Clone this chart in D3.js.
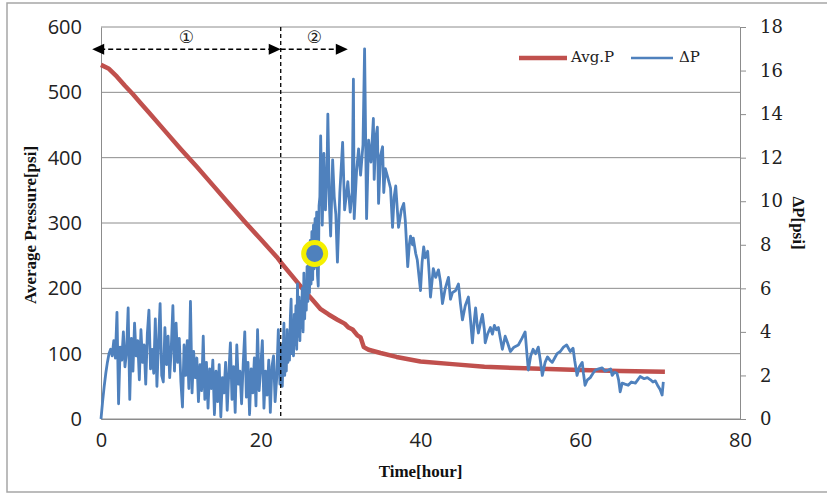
<!DOCTYPE html>
<html>
<head>
<meta charset="utf-8">
<script src="https://cdn.jsdelivr.net/npm/d3@7"></script>
<style>
  html, body { margin: 0; padding: 0; background: #fff; }
  .tick-sans { font-family: "Open Sans", sans-serif; font-size: 20px; fill: #222; }
  .tick-serif { font-family: "DejaVu Serif", serif; font-size: 18px; fill: #222; }
  .axis-title { font-family: "Liberation Serif", serif; font-size: 17px; font-weight: bold; fill: #111; }
  .legend-label { font-family: "DejaVu Serif", serif; font-size: 15px; fill: #222; }
  .phase-label { font-family: "DejaVu Sans", sans-serif; font-size: 17px; fill: #222; }
</style>
</head>
<body>
<svg id="chart" width="827" height="495"></svg>
<script>
// Avg.P and dP vs time, two y axes.

const X_TICKS = [0, 20, 40, 60, 80];
const LEFT_TICKS = [0, 100, 200, 300, 400, 500, 600];
const RIGHT_TICKS = [0, 2, 4, 6, 8, 10, 12, 14, 16, 18];

// [time (hour), average pressure (psi)]
const avgP = [
  [0, 542], [1, 536], [2, 524], [3, 510], [4, 497], [5, 483], [6, 469],
  [8, 441], [10, 413], [12, 386], [14, 358], [16, 330], [18, 302], [20, 275],
  [22, 248], [22.5, 240], [24, 218], [25.4, 197], [26.5, 182], [27.5, 168],
  [28.5, 160], [29.6, 152], [30.5, 146], [31, 140], [31.5, 137], [32.1, 128],
  [32.5, 125], [32.9, 110], [33.5, 106], [35, 101], [37, 95], [40, 88],
  [44, 84], [48, 80], [52, 78], [56, 76.5], [60, 75], [65, 73.5], [70.6, 72.5],
];

// [time (hour), dP (psi)] - phase 1: noisy plateau before the split
const dpPhase1 = [
  [0, 0], [0.2, 0.8], [0.4, 1.5], [0.6, 2.1], [0.8, 2.6], [1, 3], [1.2, 3.2], [1.4, 2.9],
  [1.6, 3.6], [1.8, 2.8], [2, 4.9], [2.2, 0.7], [2.4, 3.3], [2.6, 2.7], [2.8, 4], [3, 2.4],
  [3.2, 3.1], [3.4, 5.1], [3.6, 0.9], [3.8, 3.7], [4, 2.2], [4.2, 4.4], [4.4, 2.9], [4.6, 3.6],
  [4.8, 1.8], [5, 4.1], [5.2, 2.6], [5.4, 3.4], [5.6, 1.6], [5.8, 3.9], [6, 5], [6.2, 2.3],
  [6.4, 3.2], [6.6, 2.1], [6.8, 4.6], [7, 1.5], [7.2, 3.5], [7.4, 5.3], [7.6, 2], [7.8, 1.7],
  [8, 4.2], [8.2, 2.5], [8.4, 3.8], [8.6, 1.9], [8.8, 3.3], [9, 5.2], [9.2, 2.2], [9.4, 4.4],
  [9.6, 2.6], [9.8, 3.7], [10, 1.7], [10.2, 0.55], [10.4, 3.4], [10.6, 2], [10.8, 3.6], [11, 1.4],
  [11.2, 5.4], [11.4, 1.2], [11.6, 3.1], [11.8, 1.9], [12, 2.8], [12.2, 0.8], [12.4, 2.5], [12.6, 1.3],
  [12.8, 3.8], [13, 0.9], [13.2, 2.6], [13.4, 0.5], [13.6, 2.3], [13.8, 1.4], [14, 2.7], [14.2, 0.2],
  [14.4, 2.2], [14.6, 0.8], [14.8, 2.5], [15, 0.1], [15.2, 1.9], [15.4, 1.2], [15.6, 2.6], [15.8, 0.4],
  [16, 2.1], [16.2, 3.5], [16.4, 0.9], [16.6, 2.4], [16.8, 0.3], [17, 3.4], [17.2, 1.6], [17.4, 2.2],
  [17.6, 0.7], [17.8, 2.5], [18, 4], [18.2, 1], [18.4, 2.6], [18.6, 0.2], [18.8, 2.3], [19, 1.2],
  [19.2, 2.8], [19.4, 0.6], [19.6, 4.1], [19.8, 1.3], [20, 2.4], [20.2, 3.6], [20.4, 0.5], [20.6, 2.2],
  [20.8, 1.1], [21, 2.7], [21.2, 0.3], [21.4, 2.4], [21.6, 2.9], [21.8, 0.8], [22, 1.9], [22.2, 4.1],
  [22.4, 1.6],
];

// phase 2: steep, dense rise to the peak
const dpPhase2 = [
  [22.5, 2], [22.6, 3.4], [22.7, 1.5], [22.8, 2.9], [22.9, 4.4], [23, 2], [23.1, 3.6], [23.2, 2.2],
  [23.3, 4.1], [23.4, 2.6], [23.5, 3.9], [23.6, 2.7], [23.7, 4.6], [23.8, 5.5], [23.9, 3], [24, 4.3],
  [24.1, 2.9], [24.2, 4.8], [24.3, 3.4], [24.4, 5.2], [24.5, 3.2], [24.6, 6.2], [24.7, 3.8], [24.8, 5.6],
  [24.9, 3.6], [25, 5.4], [25.1, 4.2], [25.2, 6], [25.3, 4], [25.4, 6.7], [25.5, 4.6], [25.6, 6.3],
  [25.7, 5], [25.8, 7], [25.9, 5.4], [26, 7.6], [26.1, 5.8], [26.2, 8.2], [26.3, 6.2], [26.4, 8.6],
  [26.5, 6.4], [26.6, 8.9], [26.7, 6.9], [26.8, 9.2], [26.9, 7], [27, 9.5], [27.1, 6.6], [27.2, 6.1],
  [27.3, 9.8], [27.4, 10.2], [27.5, 13], [27.7, 8.9], [27.9, 12.2], [28.1, 9.6], [28.3, 11.5], [28.4, 14],
  [28.6, 9.8], [28.75, 8.4], [29, 11.9], [29.2, 10.2], [29.4, 9.4], [29.6, 7.2], [29.9, 10.4], [30.25, 12.7],
  [30.5, 9.6], [30.9, 10.9], [31.2, 9.5], [31.45, 10.4], [31.6, 15.6], [31.7, 9.2], [32, 11.4], [32.25, 12.4],
  [32.5, 11.2], [32.8, 12.6], [33, 17], [33.25, 9.2], [33.5, 12.8],
];

// phase 3: saw-tooth decline
const dpPhase3 = [
  [33.8, 11.8], [34.1, 13.8], [34.2, 11], [34.4, 12.9], [34.6, 13.4], [34.75, 9.9], [35, 12.1], [35.25, 12.5],
  [35.4, 10.4], [35.6, 11.5], [35.9, 11.1], [36.25, 10.6], [36.5, 8.8], [36.7, 10.2], [36.9, 10.7], [37.1, 9.6],
  [37.25, 8.8], [37.6, 9.6], [37.9, 9.9], [38.1, 9.1], [38.4, 7], [38.6, 8], [38.75, 8.4], [39, 8],
  [39.1, 8.3], [39.4, 7.6], [39.6, 7.3], [39.8, 6.6], [40, 5.9], [40.2, 7.2], [40.4, 7.9], [40.6, 7.4],
  [40.9, 7.7], [41.1, 6.6], [41.25, 5.6], [41.6, 6.9], [41.9, 6.5], [42.25, 6.85], [42.5, 6.3], [42.75, 5.3],
  [43.1, 6], [43.5, 6.5], [43.75, 5.5], [44, 5.8], [44.4, 5.9], [44.75, 6.2], [45, 5.3], [45.25, 4.55],
  [45.6, 5.2], [46, 5.6], [46.25, 4.6], [46.5, 3.5], [46.7, 4.4], [46.9, 5.1], [47.1, 4.3], [47.25, 3.95],
  [47.5, 4.4], [47.75, 4.8], [48, 4.1], [48.1, 3.5], [48.4, 3.9], [48.75, 4.2], [49, 3.9], [49.25, 4.3],
  [49.5, 4.1], [49.75, 4.2], [50, 3.7], [50.25, 3.2], [50.6, 3.8], [50.9, 3.5], [51.25, 3.1], [51.7, 3.3],
  [52.25, 3.4], [52.7, 3.7], [53.1, 4], [53.3, 3.1], [53.5, 2.25], [53.8, 2.9], [54.1, 3.2], [54.4, 3],
  [54.75, 3.3], [55, 2.7], [55.25, 2], [55.6, 2.6], [55.9, 2.85], [56.2, 2.7], [56.5, 2.6], [56.8, 2.8],
  [57.1, 3], [57.5, 3.1], [57.9, 3.3], [58.3, 3.4], [58.75, 3.1], [59.1, 3.25], [59.3, 2.7], [59.6, 2],
  [59.9, 2.4], [60.25, 2.6], [60.4, 2.1], [60.6, 1.55], [60.9, 1.8], [61.25, 1.9], [61.6, 2.1], [61.9, 2.25],
  [62.3, 2.3], [62.75, 2.35], [63.1, 2.2], [63.5, 2.25], [63.8, 2.3], [64, 2], [64.3, 2.15], [64.6, 2.1],
  [64.8, 1.8], [65, 1.25], [65.25, 1.65], [65.6, 1.6], [66, 1.55], [66.4, 1.7], [66.9, 1.65], [67.2, 1.8],
  [67.5, 1.95], [68, 1.85], [68.4, 1.9], [68.8, 1.8], [69.1, 1.7], [69.4, 1.75], [69.75, 1.5], [70, 1.35],
  [70.25, 1.1], [70.4, 1.7],
];

// phase split at 22.5 h, arrows in (time, Avg.P) units
const PHASE_SPLIT = 22.5;
const PHASES = [
  { label: '\u2460', from: -1.1, to: 22.5, bothHeads: true },
  { label: '\u2461', from: 22.5, to: 30.9, bothHeads: false },
];
const ARROW_LEVEL = 566;
const HIGHLIGHT = [26.75, 7.6]; // yellow marker on dP

const COLORS = { avgP: '#C0504D', dP: '#4F81BD', grid: '#8c8c8c', frame: '#a6a6a6' };

const svg = d3.select('#chart');
const x = d3.scaleLinear().domain([0, 80]).range([101, 740]);
const yL = d3.scaleLinear().domain([0, 600]).range([419, 27]);
const yR = d3.scaleLinear().domain([0, 18]).range([419, 27]);

// outer frame (right edge falls off the picture)
svg.append('rect')
  .attr('x', 7).attr('y', 3).attr('width', 830).attr('height', 489)
  .attr('fill', 'none').attr('stroke', COLORS.frame).attr('stroke-width', 1.5);

// horizontal gridlines from the left axis
svg.append('g')
  .selectAll('line')
  .data(LEFT_TICKS)
  .join('line')
  .attr('x1', x(0)).attr('x2', x(80))
  .attr('y1', (d) => yL(d)).attr('y2', (d) => yL(d))
  .attr('stroke', COLORS.grid).attr('stroke-width', 1);

// left axis: line + labels only
const leftAxis = svg.append('g')
  .attr('transform', `translate(${x(0)},0)`)
  .call(d3.axisLeft(yL).tickValues(LEFT_TICKS).tickSize(0).tickPadding(19));
leftAxis.select('.domain').attr('stroke', COLORS.grid);
leftAxis.selectAll('text').attr('class', 'tick-sans').attr('fill', null);

// bottom axis
const bottomAxis = svg.append('g')
  .attr('transform', `translate(0,${yL(0)})`)
  .call(d3.axisBottom(x).tickValues(X_TICKS).tickSize(0).tickPadding(14));
bottomAxis.select('.domain').attr('stroke', COLORS.grid);
bottomAxis.selectAll('text').attr('class', 'tick-sans').attr('fill', null);

// right axis with small outward ticks
const rightAxis = svg.append('g')
  .attr('transform', `translate(${x(80)},0)`)
  .call(d3.axisRight(yR).tickValues(RIGHT_TICKS).tickSize(6).tickSizeOuter(0).tickPadding(14));
rightAxis.select('.domain').attr('stroke', COLORS.grid);
rightAxis.selectAll('line').attr('stroke', COLORS.grid);
rightAxis.selectAll('text').attr('class', 'tick-serif').attr('fill', null);

// axis titles
svg.append('text')
  .attr('class', 'axis-title')
  .attr('transform', `translate(36,${(yL(0) + yL(600)) / 2 + 2}) rotate(-90)`)
  .attr('text-anchor', 'middle')
  .text('Average  Pressure[psi]');

svg.append('text')
  .attr('class', 'axis-title')
  .attr('transform', `translate(793,${(yR(0) + yR(18)) / 2}) rotate(90)`)
  .attr('text-anchor', 'middle')
  .text('\u0394P[psi]');

svg.append('text')
  .attr('class', 'axis-title')
  .attr('x', x(40)).attr('y', 477)
  .attr('text-anchor', 'middle')
  .text('Time[hour]');

// series
const lineL = d3.line().x((d) => x(d[0])).y((d) => yL(d[1]));
const lineR = d3.line().x((d) => x(d[0])).y((d) => yR(d[1]));

svg.append('path')
  .datum(avgP)
  .attr('fill', 'none')
  .attr('stroke', COLORS.avgP)
  .attr('stroke-width', 4.5)
  .attr('stroke-linejoin', 'round')
  .attr('d', lineL);

svg.append('path')
  .datum(dpPhase1.concat(dpPhase2, dpPhase3))
  .attr('fill', 'none')
  .attr('stroke', COLORS.dP)
  .attr('stroke-width', 2.8)
  .attr('stroke-linejoin', 'round')
  .attr('d', lineR);

// yellow highlight
svg.append('circle')
  .attr('cx', x(HIGHLIGHT[0])).attr('cy', yR(HIGHLIGHT[1]))
  .attr('r', 11)
  .attr('fill', COLORS.dP)
  .attr('stroke', '#f5f000')
  .attr('stroke-width', 5);

// phase split and arrows
svg.append('line')
  .attr('x1', x(PHASE_SPLIT)).attr('x2', x(PHASE_SPLIT))
  .attr('y1', yL(600)).attr('y2', yL(0))
  .attr('stroke', '#000').attr('stroke-width', 1.3)
  .attr('stroke-dasharray', '4,3');

function arrowHead(g, tipX, tipY, dir) {
  const len = 12, half = 5.5;
  g.append('path')
    .attr('d', `M${tipX},${tipY} L${tipX - dir * len},${tipY - half} L${tipX - dir * len},${tipY + half} Z`)
    .attr('fill', '#000');
}

const arrows = svg.append('g');
PHASES.forEach((p) => {
  const x0 = x(p.from), x1 = x(p.to), yy = yL(ARROW_LEVEL);
  arrows.append('line')
    .attr('x1', x0 + (p.bothHeads ? 8 : 0)).attr('x2', x1 - 8)
    .attr('y1', yy).attr('y2', yy)
    .attr('stroke', '#000').attr('stroke-width', 1.5)
    .attr('stroke-dasharray', '5,3');
  arrowHead(arrows, x1, yy, 1);
  if (p.bothHeads) arrowHead(arrows, x0, yy, -1);
  arrows.append('text')
    .attr('class', 'phase-label')
    .attr('x', (x0 + x1) / 2).attr('y', yy - 11)
    .attr('text-anchor', 'middle')
    .attr('dominant-baseline', 'middle')
    .text(p.label);
});

// legend
const legend = svg.append('g').attr('transform', 'translate(519,58)');
legend.append('line').attr('x1', 0).attr('x2', 48).attr('stroke', COLORS.avgP).attr('stroke-width', 4.5);
legend.append('text').attr('class', 'legend-label').attr('x', 52).attr('dominant-baseline', 'middle').text('Avg.P');
legend.append('line').attr('x1', 112).attr('x2', 154).attr('stroke', COLORS.dP).attr('stroke-width', 2.4);
legend.append('text').attr('class', 'legend-label').attr('x', 160).attr('dominant-baseline', 'middle').text('\u0394P');
</script>
</body>
</html>
